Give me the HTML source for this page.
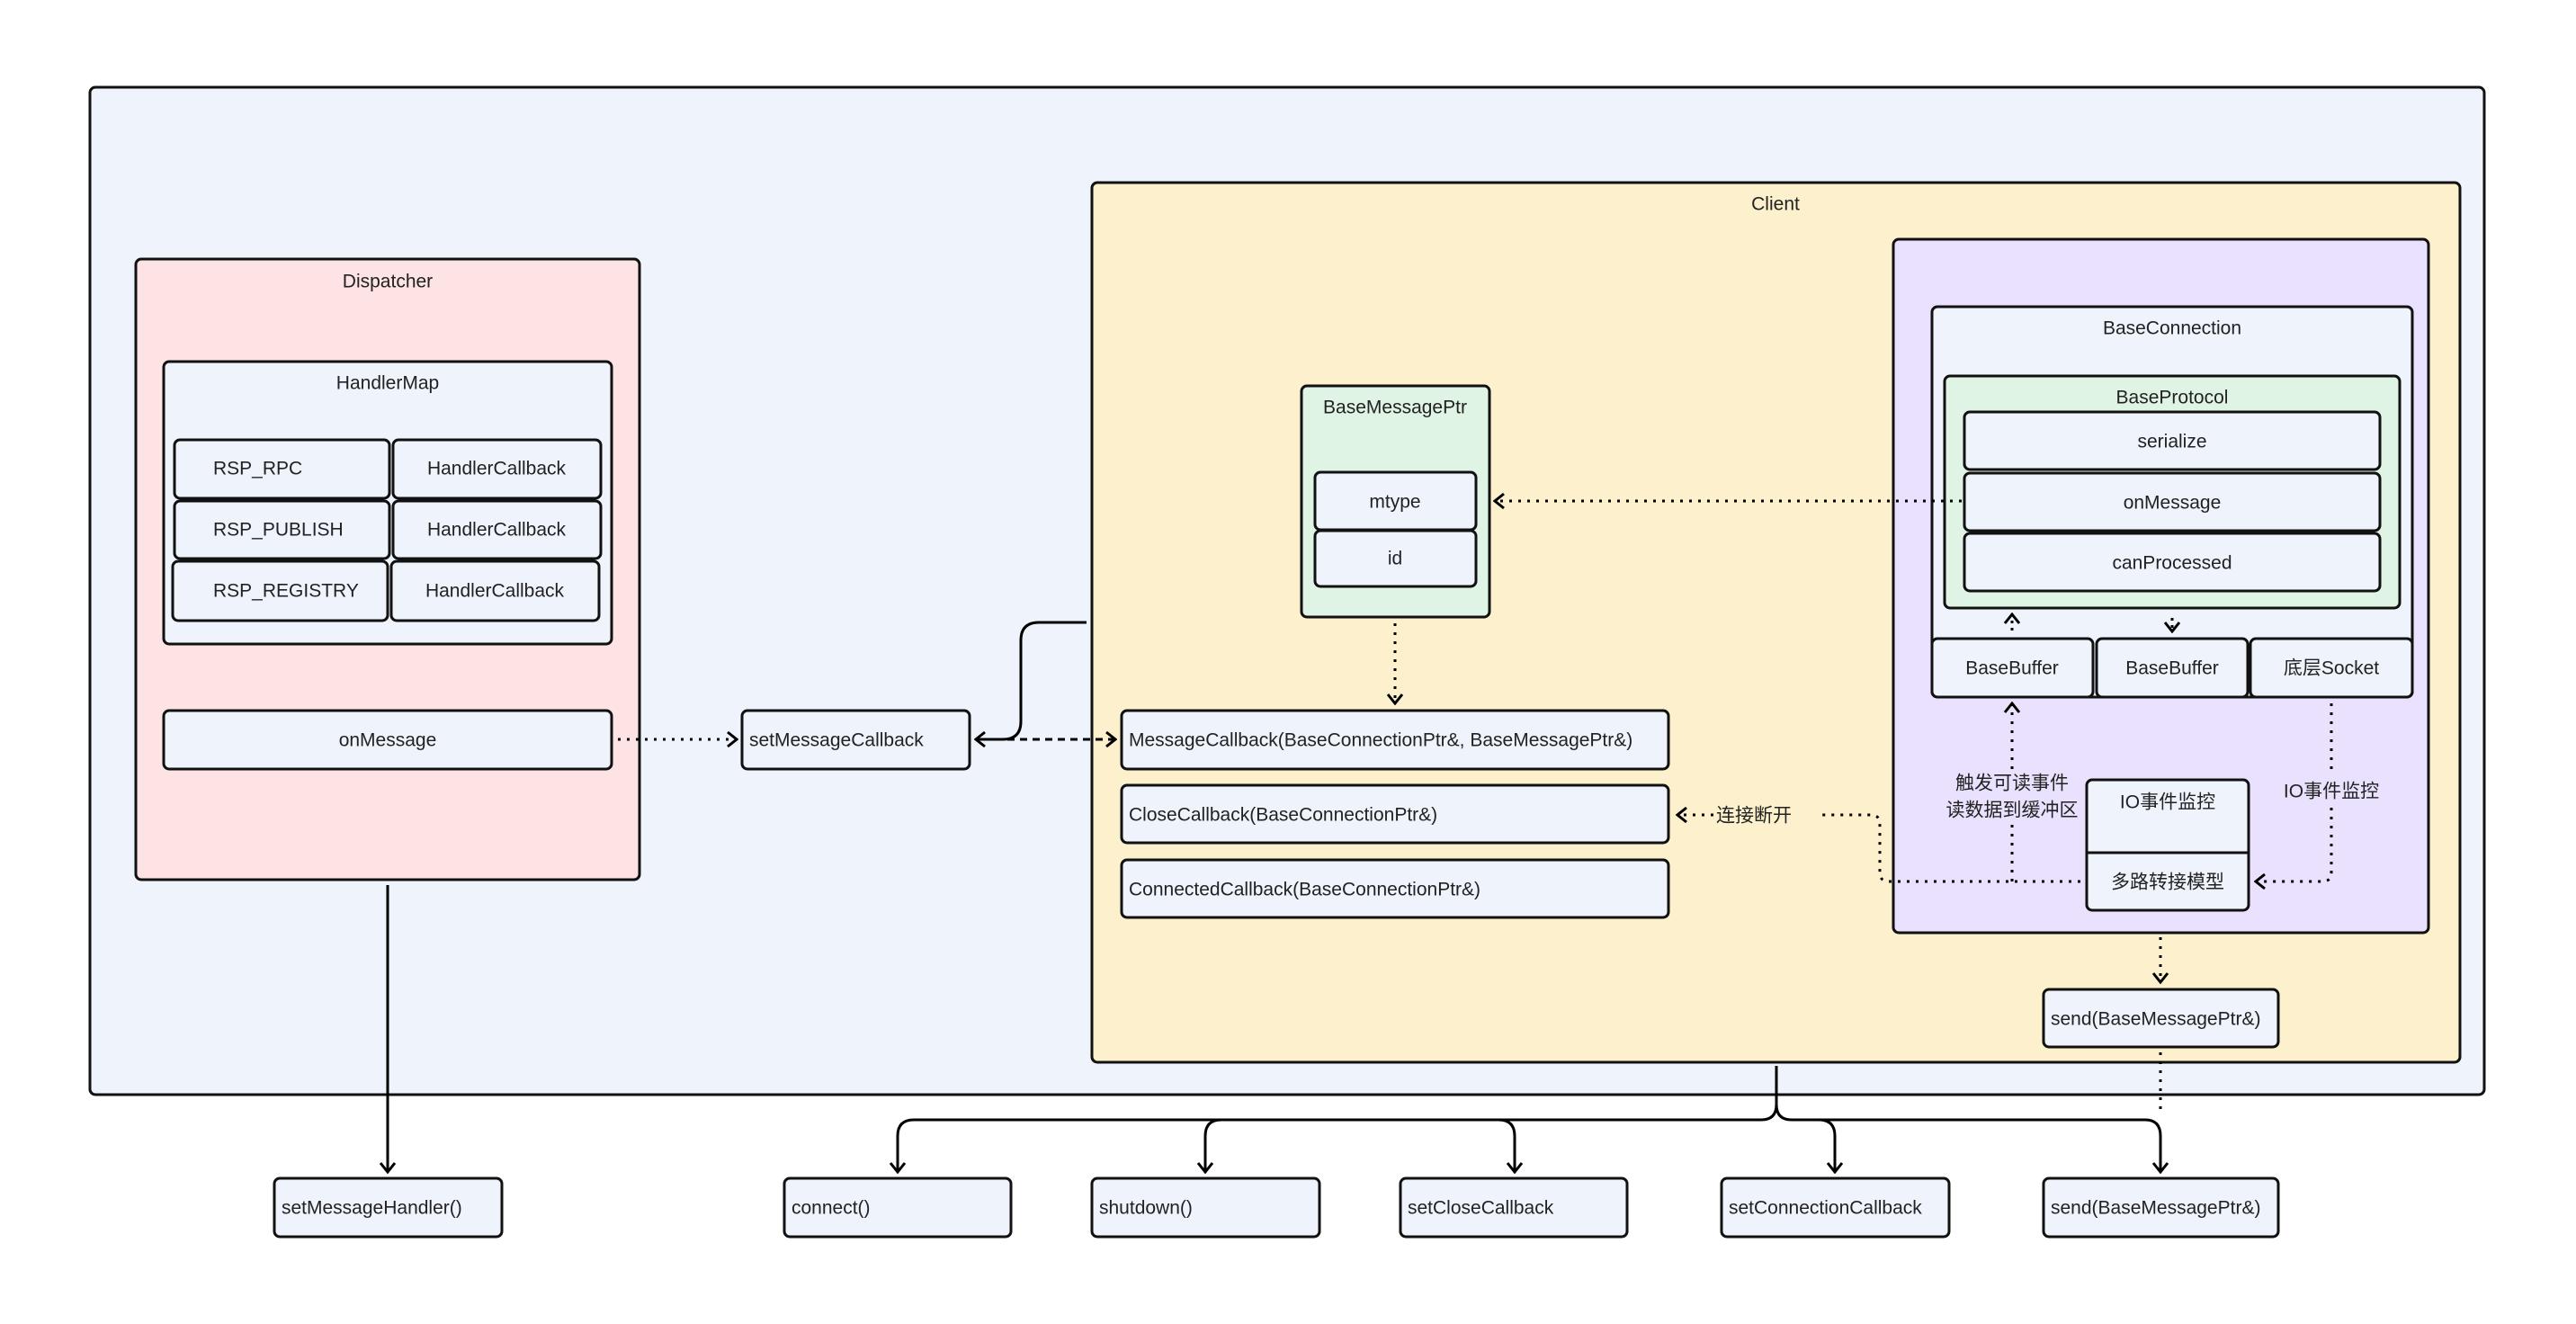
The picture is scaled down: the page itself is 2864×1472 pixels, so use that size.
<!DOCTYPE html>
<html><head><meta charset="utf-8"><style>
html,body{margin:0;padding:0;background:#fff;}
svg{display:block;}
text{font-family:"Liberation Sans","Noto Sans CJK SC",sans-serif;font-size:21px;fill:#222;}
</style></head><body>
<svg width="2864" height="1472" viewBox="0 0 2864 1472" xmlns="http://www.w3.org/2000/svg">
<defs>
<marker id="a" viewBox="0 0 20 20" refX="18" refY="10" markerWidth="20" markerHeight="20" markerUnits="userSpaceOnUse" orient="auto">
<polyline points="8,2 18,10 8,18" fill="none" stroke="#000" stroke-width="3"/>
</marker>
</defs>
<g stroke="#111" stroke-width="3">
<!-- outer -->
<rect x="100" y="97" width="2662" height="1120" rx="6" fill="#eef3fc"/>
<!-- dispatcher -->
<rect x="151" y="288" width="560" height="690" rx="6" fill="#fde3e3"/>
<rect x="182" y="402" width="498" height="314" rx="6" fill="#eef3fc"/>
<rect x="194" y="489" width="239" height="65" rx="6" fill="#eef3fc"/>
<rect x="437" y="489" width="231" height="65" rx="6" fill="#eef3fc"/>
<rect x="194" y="557" width="239" height="64" rx="6" fill="#eef3fc"/>
<rect x="437" y="557" width="231" height="64" rx="6" fill="#eef3fc"/>
<rect x="192" y="624" width="239" height="66" rx="6" fill="#eef3fc"/>
<rect x="435" y="624" width="231" height="66" rx="6" fill="#eef3fc"/>
<rect x="182" y="790" width="498" height="65" rx="6" fill="#eef3fc"/>
<rect x="825" y="790" width="253" height="65" rx="6" fill="#eef3fc"/>
<!-- client -->
<rect x="1214" y="203" width="1521" height="978" rx="6" fill="#fdf0cc"/>
<rect x="1247" y="790" width="608" height="65" rx="6" fill="#eef3fc"/>
<rect x="1247" y="873" width="608" height="64" rx="6" fill="#eef3fc"/>
<rect x="1247" y="956" width="608" height="64" rx="6" fill="#eef3fc"/>
<rect x="1447" y="429" width="209" height="257" rx="6" fill="#e0f4e5"/>
<rect x="1462" y="525" width="179" height="64" rx="6" fill="#eef3fc"/>
<rect x="1462" y="590" width="179" height="62" rx="6" fill="#eef3fc"/>
<rect x="2105" y="266" width="595" height="771" rx="6" fill="#e9e1fd"/>
<rect x="2148" y="341" width="534" height="434" rx="6" fill="#eef3fc"/>
<rect x="2162" y="418" width="506" height="258" rx="6" fill="#e0f4e5"/>
<rect x="2184" y="458" width="462" height="64" rx="6" fill="#eef3fc"/>
<rect x="2184" y="526" width="462" height="64" rx="6" fill="#eef3fc"/>
<rect x="2184" y="593" width="462" height="64" rx="6" fill="#eef3fc"/>
<rect x="2148" y="710" width="179" height="65" rx="6" fill="#eef3fc"/>
<rect x="2331" y="710" width="168" height="65" rx="6" fill="#eef3fc"/>
<rect x="2502" y="710" width="180" height="65" rx="6" fill="#eef3fc"/>
<rect x="2320" y="867" width="180" height="145" rx="6" fill="#eef3fc"/>
<line x1="2320" y1="948" x2="2500" y2="948"/>
<rect x="2272" y="1100" width="261" height="64" rx="6" fill="#eef3fc"/>
<!-- bottom row -->
<rect x="305" y="1310" width="253" height="65" rx="6" fill="#eef3fc"/>
<rect x="872" y="1310" width="252" height="65" rx="6" fill="#eef3fc"/>
<rect x="1214" y="1310" width="253" height="65" rx="6" fill="#eef3fc"/>
<rect x="1557" y="1310" width="252" height="65" rx="6" fill="#eef3fc"/>
<rect x="1914" y="1310" width="253" height="65" rx="6" fill="#eef3fc"/>
<rect x="2272" y="1310" width="261" height="65" rx="6" fill="#eef3fc"/>
</g>
<g fill="none" stroke="#000" stroke-width="3">
<line x1="431" y1="984" x2="431" y2="1303" marker-end="url(#a)"/>
<line x1="687" y1="822" x2="819" y2="822" stroke-dasharray="3 7" marker-end="url(#a)"/>
<path d="M1208 692 H1155 Q1135 692 1135 712 V802 Q1135 822 1115 822 H1085" marker-end="url(#a)"/>
<line x1="1120" y1="822" x2="1240" y2="822" stroke-dasharray="8 6" marker-end="url(#a)"/>
<line x1="1551" y1="693" x2="1551" y2="782" stroke-dasharray="3 7" marker-end="url(#a)"/>
<line x1="2181" y1="557" x2="1662" y2="557" stroke-dasharray="3 7" marker-end="url(#a)"/>
<line x1="2237" y1="701" x2="2237" y2="683" stroke-dasharray="3 5" marker-end="url(#a)"/>
<line x1="2415" y1="687" x2="2415" y2="702" stroke-dasharray="3 5" marker-end="url(#a)"/>
<line x1="2237" y1="980" x2="2237" y2="917" stroke-dasharray="3 7"/>
<line x1="2237" y1="855" x2="2237" y2="782" stroke-dasharray="3 7" marker-end="url(#a)"/>
<path d="M2313 980 H2100 Q2090 980 2090 970 V916 Q2090 906 2080 906 H2020" stroke-dasharray="3 7"/>
<line x1="1905" y1="906" x2="1865" y2="906" stroke-dasharray="3 7" marker-end="url(#a)"/>
<line x1="2592" y1="782" x2="2592" y2="862"  stroke-dasharray="3 7"/>
<path d="M2592 898 V970 Q2592 980 2582 980 H2508" stroke-dasharray="3 7" marker-end="url(#a)"/>
<line x1="2402" y1="1042" x2="2402" y2="1092" stroke-dasharray="3 7" marker-end="url(#a)"/>
<line x1="2402" y1="1170" x2="2402" y2="1240" stroke-dasharray="3 7"/>
<line x1="1975" y1="1185" x2="1975" y2="1228"/>
<path d="M1975 1228 Q1975 1245 1958 1245 H1016 Q998 1245 998 1263 V1303" marker-end="url(#a)"/>
<path d="M1975 1228 Q1975 1245 1992 1245 H2385 Q2402 1245 2402 1263 V1303" marker-end="url(#a)"/>
<path d="M1358 1245 Q1340 1245 1340 1263 V1303" marker-end="url(#a)"/>
<path d="M1666 1245 Q1684 1245 1684 1263 V1303" marker-end="url(#a)"/>
<path d="M2022 1245 Q2040 1245 2040 1263 V1303" marker-end="url(#a)"/>
</g>
<g text-anchor="middle" dominant-baseline="central">
<text x="431" y="313">Dispatcher</text>
<text x="431" y="426">HandlerMap</text>
<text x="552" y="521">HandlerCallback</text>
<text x="552" y="589">HandlerCallback</text>
<text x="550" y="657">HandlerCallback</text>
<text x="431" y="823">onMessage</text>
<text x="1974" y="227">Client</text>
<text x="1551" y="453">BaseMessagePtr</text>
<text x="1551" y="558">mtype</text>
<text x="1551" y="621">id</text>
<text x="2415" y="365">BaseConnection</text>
<text x="2415" y="442">BaseProtocol</text>
<text x="2415" y="491">serialize</text>
<text x="2415" y="559">onMessage</text>
<text x="2415" y="626">canProcessed</text>
<text x="2237" y="743">BaseBuffer</text>
<text x="2415" y="743">BaseBuffer</text>
<text x="2592" y="743">底层Socket</text>
<text x="2410" y="892">IO事件监控</text>
<text x="2410" y="981">多路转接模型</text>
<text x="2237" y="871">触发可读事件</text>
<text x="2237" y="901">读数据到缓冲区</text>
<text x="2592" y="880">IO事件监控</text>
<text x="1950" y="907">连接断开</text>
</g>
<g dominant-baseline="central">
<text x="237" y="521">RSP_RPC</text>
<text x="237" y="589">RSP_PUBLISH</text>
<text x="237" y="657">RSP_REGISTRY</text>
<text x="833" y="823">setMessageCallback</text>
<text x="1255" y="823">MessageCallback(BaseConnectionPtr&amp;,  BaseMessagePtr&amp;)</text>
<text x="1255" y="906">CloseCallback(BaseConnectionPtr&amp;)</text>
<text x="1255" y="989">ConnectedCallback(BaseConnectionPtr&amp;)</text>
<text x="2280" y="1133">send(BaseMessagePtr&amp;)</text>
<text x="313" y="1343">setMessageHandler()</text>
<text x="880" y="1343">connect()</text>
<text x="1222" y="1343">shutdown()</text>
<text x="1565" y="1343">setCloseCallback</text>
<text x="1922" y="1343">setConnectionCallback</text>
<text x="2280" y="1343">send(BaseMessagePtr&amp;)</text>
</g>
</svg>
</body></html>
